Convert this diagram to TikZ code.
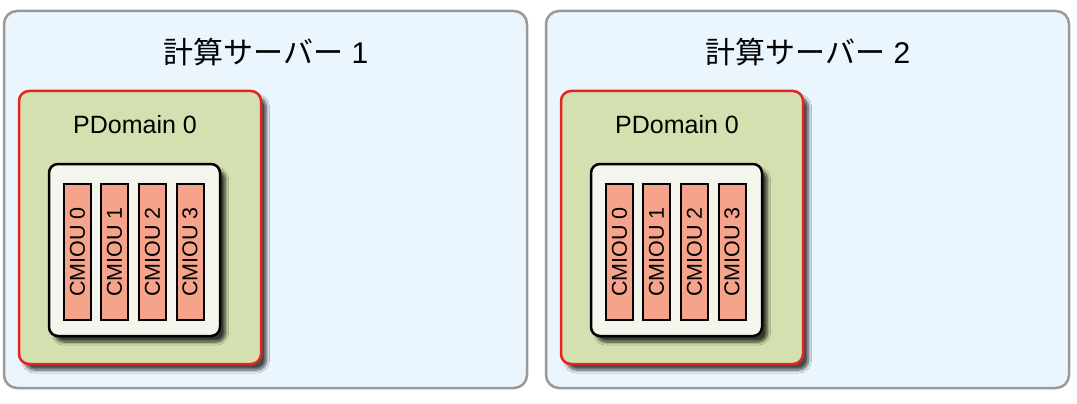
\documentclass[tikz,border=0pt]{standalone}
\usepackage{fontspec}
\setmainfont{Liberation Sans}
\newfontfamily\jpfont{Noto Sans CJK JP}
\usetikzlibrary{shadows.blur}
\definecolor{srvfill}{HTML}{EAF5FD}
\definecolor{srvline}{HTML}{999999}
\definecolor{pdfill}{HTML}{D5E0B0}
\definecolor{pdline}{HTML}{E52421}
\definecolor{infill}{HTML}{F4F6EE}
\definecolor{cmfill}{HTML}{F5A38A}
\begin{document}
\begin{tikzpicture}[x=1pt,y=-1pt,
  server/.style={draw=srvline, fill=srvfill, line width=2.5pt, rounded corners=13pt,
    minimum width=523pt, minimum height=377pt, inner sep=0pt},
  title/.style={font=\fontsize{30}{36}\selectfont, inner sep=0pt},
  pdom/.style={draw=pdline, fill=pdfill, line width=2.5pt, rounded corners=10pt,
    minimum width=242pt, minimum height=273pt, inner sep=0pt,
    blur shadow={shadow xshift=5.5pt, shadow yshift=-6pt, shadow blur radius=3pt,
      shadow opacity=70, shadow blur steps=8}},
  pdlabel/.style={font=\fontsize{25}{30}\selectfont, inner sep=0pt},
  inbox/.style={draw=black, fill=infill, line width=2.5pt, rounded corners=9pt,
    minimum width=171pt, minimum height=172pt, inner sep=0pt,
    blur shadow={shadow xshift=5.5pt, shadow yshift=-6pt, shadow blur radius=3pt,
      shadow opacity=75, shadow blur steps=8}},
  cmiou/.style={draw=black, fill=cmfill, line width=2pt, rotate=90,
    minimum width=136pt, minimum height=27pt, inner sep=0pt,
    font=\fontsize{21.5}{25}\selectfont}
]
\useasboundingbox (0,0) rectangle (1077,404);
\foreach \k/\dx in {1/0, 2/542} {
  \begin{scope}[xshift=\dx pt]
    \node[server] (s\k) at (265.5,199.5) {};
    \node[title] (t\k) at (266,52) {{\jpfont 計算サーバー} \k};
    \node[pdom] (p\k) at (140,227.5) {};
    \node[pdlabel] (l\k) at (135,125) {PDomain 0};
    \node[inbox] (i\k) at (134.5,250) {};
    \node[cmiou] (c\k-0) at (77.5,252) {CMIOU 0};
    \node[cmiou] (c\k-1) at (114.5,252) {CMIOU 1};
    \node[cmiou] (c\k-2) at (152.5,252) {CMIOU 2};
    \node[cmiou] (c\k-3) at (190,252) {CMIOU 3};
  \end{scope}
}
\end{tikzpicture}
\end{document}
